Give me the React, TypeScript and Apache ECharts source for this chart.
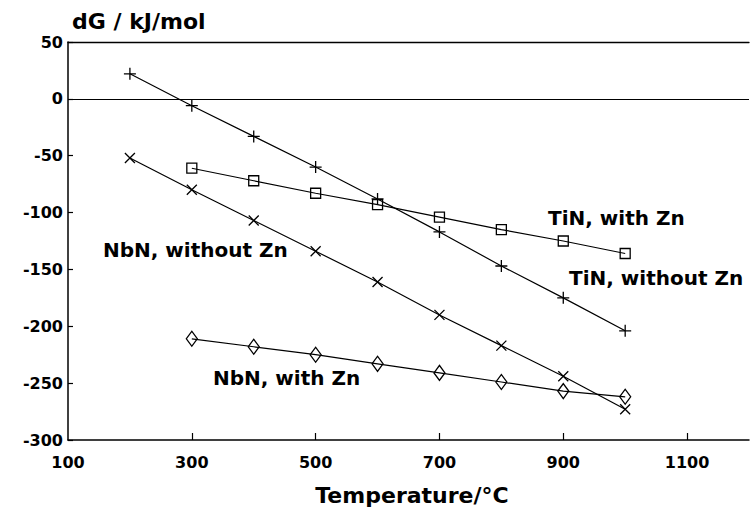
import React, { useEffect, useRef } from "react";
import * as echarts from "echarts";

const temps = [200, 300, 400, 500, 600, 700, 800, 900, 1000];
const tempsFrom300 = [300, 400, 500, 600, 700, 800, 900, 1000];
const tinWithoutZn = [22, -6, -33, -60, -88, -117, -147, -175, -204];
const tinWithZn = [-61, -72, -83, -93, -104, -115, -125, -136];
const nbnWithoutZn = [-52, -80, -107, -134, -161, -190, -217, -244, -273];
const nbnWithZn = [-211, -218, -225, -233, -241, -249, -257, -262];
const xTickValues = [300, 500, 700, 900, 1100];

const FONT = "DejaVu Sans";

const pair = (xs: number[], ys: number[]) => xs.map((x, i) => [x, ys[i]]);

const PLUS = "path://M5,0 L5,10 M0,5 L10,5";
const CROSS = "path://M0,0 L10,10 M10,0 L0,10";

export default function App() {
  const ref = useRef<HTMLDivElement>(null);
  useEffect(() => {
    if (!ref.current) return;
    const chart = echarts.init(ref.current, undefined, { renderer: "svg" });
    const lineStyle = { color: "#000", width: 1.2 };
    const itemStyle = { color: "transparent", borderColor: "#000", borderWidth: 1.3 };
    const base = {
      type: "line" as const,
      lineStyle,
      itemStyle,
      showAllSymbol: true,
      silent: true,
    };
    chart.setOption({
      animation: false,
      backgroundColor: "#fff",
      grid: {
        left: 68,
        right: 0,
        top: 42,
        bottom: 69,
        show: false,
      },
      xAxis: [
        {
          type: "value",
          min: 100,
          max: 1200,
          interval: 200,
          axisLine: { show: true, onZero: false, lineStyle: { color: "#000", width: 1.5 } },
          axisTick: {
            show: true,
            inside: true,
            length: 7,
            customValues: xTickValues,
            lineStyle: { color: "#000", width: 1.2 },
          },
          splitLine: { show: false },
          axisLabel: {
            margin: 14,
            color: "#000",
            fontFamily: FONT,
            fontWeight: "bold",
            fontSize: 16,
            formatter: (v: number) => (v === 1200 ? "" : String(v)),
          },
        },
        {
          type: "value",
          position: "top",
          min: 100,
          max: 1200,
          interval: 200,
          axisLine: { show: true, onZero: false, lineStyle: { color: "#000", width: 1.3 } },
          axisTick: { show: false },
          axisLabel: { show: false },
          splitLine: { show: false },
        },
      ],
      yAxis: {
        type: "value",
        min: -300,
        max: 50,
        interval: 50,
        axisLine: { show: true, onZero: false, lineStyle: { color: "#000", width: 1.5 } },
        axisTick: { show: true, inside: true, length: 5, lineStyle: { color: "#000", width: 1.2 } },
        splitLine: { show: false },
        axisLabel: {
          margin: 5,
          color: "#000",
          fontFamily: FONT,
          fontWeight: "bold",
          fontSize: 16,
        },
      },
      series: [
        {
          ...base,
          name: "TiN, without Zn",
          data: pair(temps, tinWithoutZn),
          symbol: PLUS,
          symbolSize: 12,
          markLine: {
            silent: true,
            symbol: "none",
            label: { show: false },
            lineStyle: { color: "#000", width: 1.2, type: "solid" },
            data: [{ yAxis: 0 }],
          },
        },
        {
          ...base,
          name: "TiN, with Zn",
          data: pair(tempsFrom300, tinWithZn),
          symbol: "rect",
          symbolSize: 10,
        },
        {
          ...base,
          name: "NbN, without Zn",
          data: pair(temps, nbnWithoutZn),
          symbol: CROSS,
          symbolSize: 10,
        },
        {
          ...base,
          name: "NbN, with Zn",
          data: pair(tempsFrom300, nbnWithZn),
          symbol: "diamond",
          symbolSize: [11, 15],
        },
      ],
      graphic: [
        {
          type: "text",
          left: 72,
          top: 10,
          style: { text: "dG / kJ/mol", fill: "#000", font: `bold 22px "${FONT}"` },
        },
        {
          type: "text",
          x: 412,
          y: 495,
          style: {
            text: "Temperature/°C",
            fill: "#000",
            font: `bold 22px "${FONT}"`,
            align: "center",
            verticalAlign: "middle",
          },
        },
        {
          type: "text",
          x: 548,
          y: 218,
          style: { text: "TiN, with Zn", fill: "#000", font: `bold 20px "${FONT}"`, verticalAlign: "middle" },
        },
        {
          type: "text",
          x: 569,
          y: 278,
          style: { text: "TiN, without Zn", fill: "#000", font: `bold 20px "${FONT}"`, verticalAlign: "middle" },
        },
        {
          type: "text",
          x: 103,
          y: 250,
          style: { text: "NbN, without Zn", fill: "#000", font: `bold 20px "${FONT}"`, verticalAlign: "middle" },
        },
        {
          type: "text",
          x: 213,
          y: 378,
          style: { text: "NbN, with Zn", fill: "#000", font: `bold 20px "${FONT}"`, verticalAlign: "middle" },
        },
      ],
    });
    return () => chart.dispose();
  }, []);
  return (
    <div
      ref={ref}
      style={{ position: "absolute", left: 0, top: 0, width: 752, height: 509 }}
    />
  );
}
